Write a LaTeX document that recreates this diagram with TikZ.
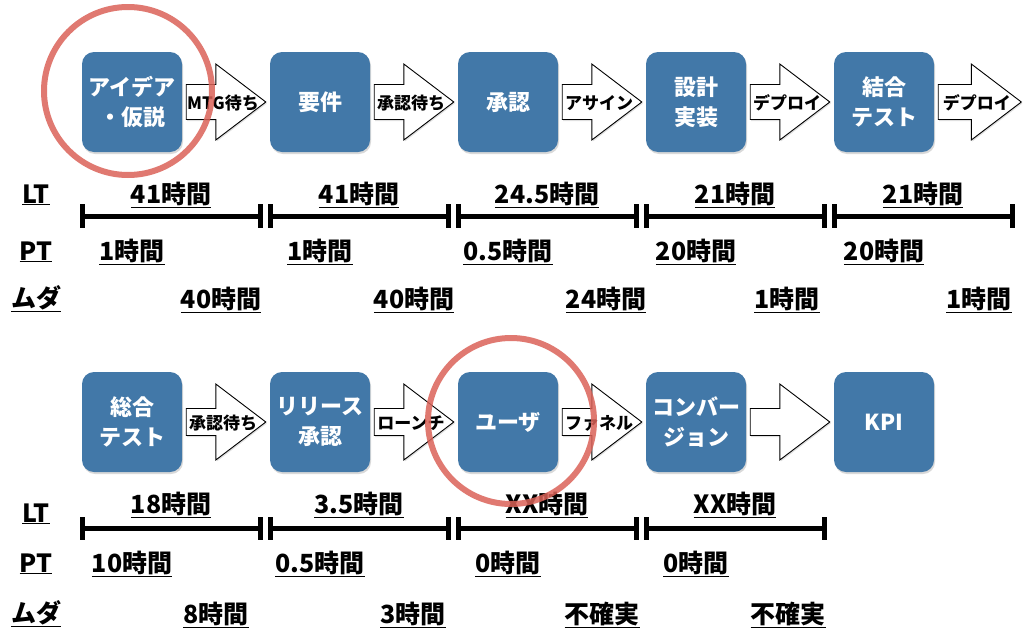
\documentclass[tikz,border=0pt]{standalone}
\usepackage{fontspec}
\setmainfont{Noto Sans CJK JP}
\usetikzlibrary{calc,shadows}
\definecolor{boxblue}{RGB}{66,120,168}
\definecolor{markred}{RGB}{218,98,88}
\begin{document}
\begin{tikzpicture}[x=1pt, y=-1pt,
    box/.style={rounded corners=12pt, fill=boxblue, text=white, minimum width=100pt, minimum height=100pt,
      align=center, font=\fontsize{22}{30}\selectfont\bfseries,
      drop shadow={opacity=0.3, shadow xshift=1pt, shadow yshift=-2pt}},
    flow/.style={draw=black, fill=white, line width=0.9pt, line join=miter,
      drop shadow={opacity=0.25, shadow xshift=1pt, shadow yshift=-1.5pt}},
    flowlbl/.style={font=\fontsize{17}{20}\selectfont\bfseries, inner sep=0pt},
    val/.style={font=\fontsize{25}{30}\selectfont\bfseries, anchor=base, inner sep=0pt},
    bar/.style={line width=5pt},
    redring/.style={draw=markred, line width=6pt, opacity=0.85}]
    \useasboundingbox (0,0) rectangle (1024,635);
    % Upper flow
    \node[box] (idea)  at (132,102) {アイデア\\・仮説};
    \node[box] (req)   at (320,102) {要件};
    \node[box] (appr)  at (508,102) {承認};
    \node[box] (impl)  at (696,102) {設計\\実装};
    \node[box] (integ) at (884,102) {結合\\テスト};
    \node[inner sep=0pt] (outR) at (1026,102) {};
    % Lower flow
    \node[box] (sys)  at (132,422) {総合\\テスト};
    \node[box] (rel)  at (320,422) {リリース\\承認};
    \node[box] (user) at (508,422) {ユーザ};
    \node[box] (conv) at (696,422) {コンバー\\ジョン};
    \node[box] (kpi)  at (884,422) {KPI};
    % Block arrows between steps
    \foreach \a/\b/\t/\h in {idea/req/MTG待ち/17.5, req/appr/承認待ち/17.5, appr/impl/アサイン/17.5,
        impl/integ/デプロイ/17.5, integ/outR/デプロイ/17.5, sys/rel/承認待ち/13.5,
        rel/user/ローンチ/13.5, user/conv/ファネル/13.5, conv/kpi//13.5} {
      \draw[flow] ($(\a.east)+(4,-\h)$) -- ($(\b.west)+(-54,-\h)$) -- ($(\b.west)+(-54,-38)$)
        -- ($(\b.west)+(-4,0)$) -- ($(\b.west)+(-54,38)$) -- ($(\b.west)+(-54,\h)$)
        -- ($(\a.east)+(4,\h)$) -- cycle;
      \node[flowlbl] (lbl\a) at ($(\a.east)!0.5!(\b.west)+(-3,1)$) {\t};
    }
    % Upper time bars
    \foreach \i in {0,...,4} {
      \draw[bar] ({82+188*\i},216) -- ({260+188*\i},216);
      \draw[bar] ({82+188*\i},204) -- ({82+188*\i},228);
      \draw[bar] ({260+188*\i},204) -- ({260+188*\i},228);
    }
    \node[val] (ltA)  at (36,203) {\underline{LT}};
    \node[val] (ptA)  at (36,260) {\underline{PT}};
    \node[val] (mudaA) at (36,307) {\underline{ムダ}};
    \foreach \t [count=\i from 0] in {41時間, 41時間, 24.5時間, 21時間, 21時間}
      \node[val] (ltA\i) at ({171+188*\i},203) {\underline{\t}};
    \foreach \t [count=\i from 0] in {1時間, 1時間, 0.5時間, 20時間, 20時間}
      \node[val] (ptA\i) at ({132+188*\i},260) {\underline{\t}};
    \foreach \x/\t [count=\i from 0] in {221/40時間, 414/40時間, 606/24時間, 787/1時間, 979/1時間}
      \node[val] (mudaA\i) at (\x,308) {\underline{\t}};
    % Lower time bars
    \foreach \i in {0,...,3} {
      \draw[bar] ({82+188*\i},528.5) -- ({260+188*\i},528.5);
      \draw[bar] ({82+188*\i},517) -- ({82+188*\i},540);
      \draw[bar] ({260+188*\i},517) -- ({260+188*\i},540);
    }
    \node[val] (ltB)  at (36,522) {\underline{LT}};
    \node[val] (ptB)  at (36,572) {\underline{PT}};
    \node[val] (mudaB) at (36,622) {\underline{ムダ}};
    \foreach \t [count=\i from 0] in {18時間, 3.5時間, XX時間, XX時間}
      \node[val] (ltB\i) at ({171+188*\i},513) {\underline{\t}};
    \foreach \t [count=\i from 0] in {10時間, 0.5時間, 0時間, 0時間}
      \node[val] (ptB\i) at ({132+188*\i},572) {\underline{\t}};
    \foreach \x/\t [count=\i from 0] in {216/8時間, 413/3時間, 602/不確実, 788/不確実}
      \node[val] (mudaB\i) at (\x,623) {\underline{\t}};
    % Red marks
    \draw[redring] (128,91) circle[radius=84];
    \draw[redring] (511,421) circle[radius=83];
\end{tikzpicture}
\end{document}
